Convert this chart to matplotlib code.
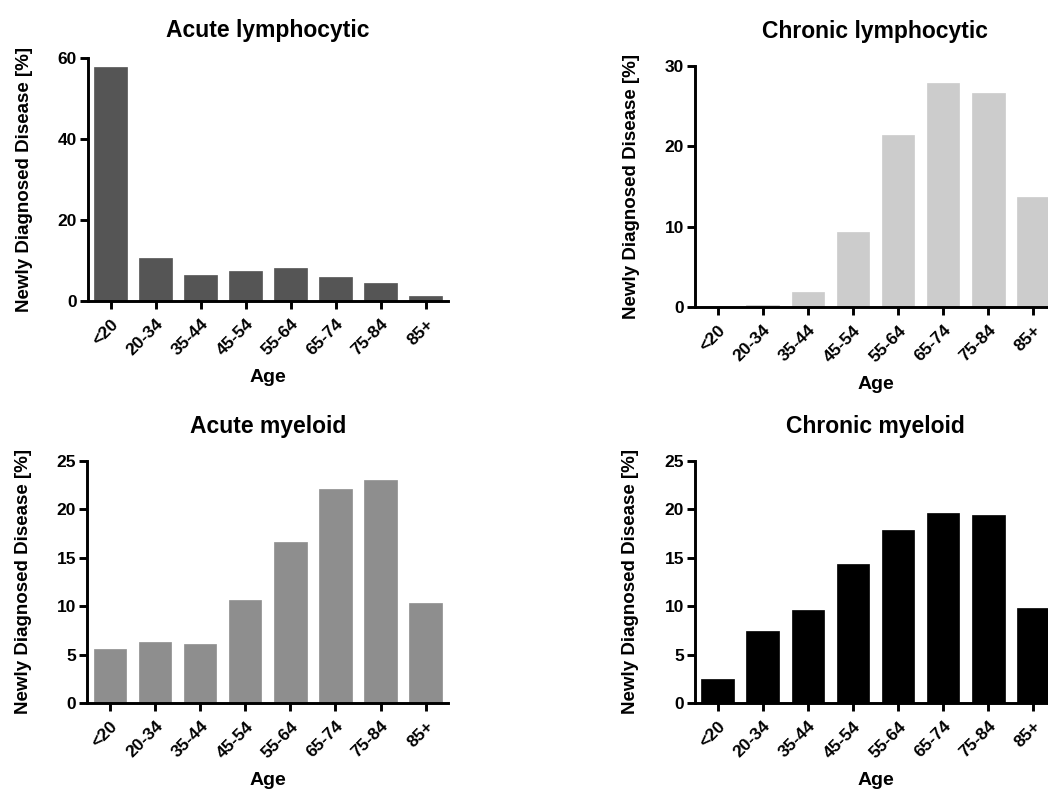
import matplotlib
matplotlib.use("Agg")
import matplotlib.pyplot as plt
import numpy as np

plt.rcParams['font.family'] = ['Liberation Sans', 'DejaVu Sans']
plt.rcParams['font.weight'] = 'bold'

categories = ["<20", "20-34", "35-44", "45-54", "55-64", "65-74", "75-84", "85+"]

acute_lymphocytic = [57.8, 10.5, 6.3, 7.5, 8.2, 6.0, 4.4, 1.3]
chronic_lymphocytic = [0.1, 0.3, 1.9, 9.3, 21.4, 27.8, 26.6, 13.7]
acute_myeloid = [5.6, 6.3, 6.1, 10.6, 16.65, 22.1, 23.0, 10.3]
chronic_myeloid = [2.5, 7.4, 9.6, 14.4, 17.85, 19.6, 19.4, 9.8]

titles = ["Acute lymphocytic", "Chronic lymphocytic", "Acute myeloid", "Chronic myeloid"]
series = [acute_lymphocytic, chronic_lymphocytic, acute_myeloid, chronic_myeloid]
colors = ["#555555", "#cccccc", "#8e8e8e", "#000000"]
ylims = [60, 30, 25, 25]
yticks = [[0, 20, 40, 60], [0, 10, 20, 30], [0, 5, 10, 15, 20, 25], [0, 5, 10, 15, 20, 25]]
title_pads = [15, 20, 20, 20]

W, H = 1048, 789
fig = plt.figure(figsize=(W / 100, H / 100), dpi=100)

# axes rectangles in pixels: left, bottom(y from top), width, height
rects = [
    (88, 301, 360, 243),
    (695, 307.3, 361, 241.6),
    (87.3, 703.3, 361, 242.7),
    (695, 703.3, 361, 242.7),
]

for i in range(4):
    l, b, w, h = rects[i]
    ax = fig.add_axes([l / W, 1 - b / H, w / W, h / H])
    x = np.arange(len(categories))
    ax.bar(x, series[i], width=0.72, color=colors[i], edgecolor=colors[i], linewidth=0.5, zorder=2)
    ax.set_xlim(-0.5, 7.5)
    ax.set_ylim(0, ylims[i])
    ax.set_yticks(yticks[i])
    ax.set_xticks(x)
    ax.set_xticklabels(categories, rotation=45, ha='right', rotation_mode='anchor')
    for s in ['top', 'right']:
        ax.spines[s].set_visible(False)
    for s in ['left', 'bottom']:
        ax.spines[s].set_linewidth(2.1)
        ax.spines[s].set_color('black')
        ax.spines[s].set_zorder(3)
    ax.tick_params(axis='both', width=2.1, length=6, labelsize=12.5, colors='black', pad=2)
    ax.tick_params(axis='x', pad=5)
    for lab in ax.get_xticklabels() + ax.get_yticklabels():
        lab.set_fontweight('bold')
    ax.set_title(titles[i], fontsize=16.5, fontweight='bold', pad=title_pads[i])
    ax.set_ylabel("Newly Diagnosed Disease [%]", fontsize=13.5, fontweight='bold', labelpad=18)
    ax.set_xlabel("Age", fontsize=14, fontweight='bold', labelpad=8)

fig.savefig("out.png", dpi=100)
